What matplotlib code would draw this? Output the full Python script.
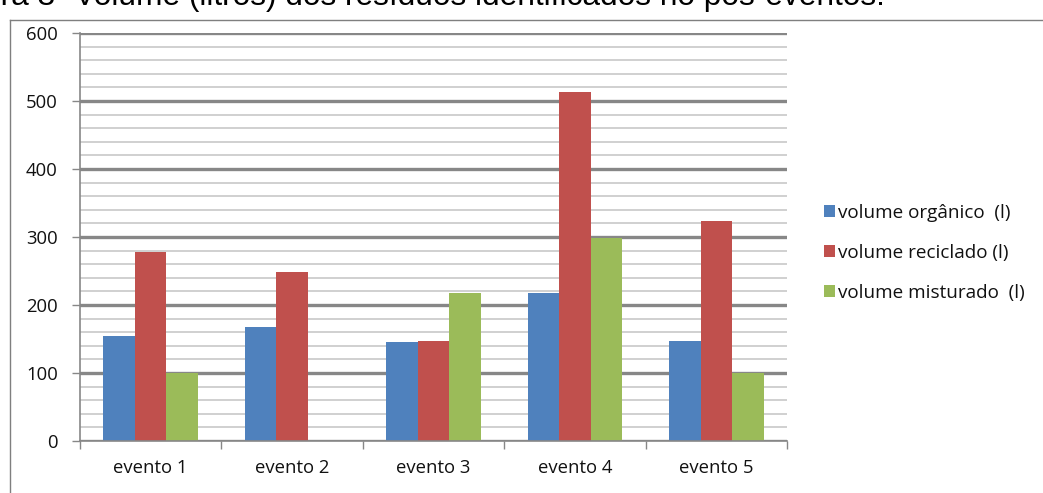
import matplotlib
matplotlib.use("Agg")
import matplotlib.pyplot as plt
from matplotlib.lines import Line2D
import numpy as np

plt.rcParams['font.family'] = ['Open Sans', 'DejaVu Sans']

categories = ["evento 1", "evento 2", "evento 3", "evento 4", "evento 5"]
series_names = ["volume orgânico  (l)", "volume reciclado (l)", "volume misturado  (l)"]
organico = [155, 168, 145, 218, 147]
reciclado = [278, 248, 147, 513, 323]
misturado = [100, 0, 218, 298, 100]
colors = ["#4F81BD", "#C0504D", "#9BBB59"]
title = "Figura 3- Volume (litros) dos resíduos identificados no pós-eventos."

W, H = 1043, 493
fig = plt.figure(figsize=(W / 100, H / 100), dpi=100)
fig.patch.set_facecolor("white")

x0, x1 = 80, 787
y_top, y_bot = 33, 441
ax = fig.add_axes([x0 / W, (H - y_bot) / H, (x1 - x0) / W, (y_bot - y_top) / H])

n = len(categories)
x = np.arange(n)
bw = 0.223
data = [organico, reciclado, misturado]
for i, (vals, col, name) in enumerate(zip(data, colors, series_names)):
    ax.bar(x + (i - 1) * bw, vals, width=bw, color=col, label=name, zorder=3,
           edgecolor="none")

ax.set_xlim(-0.5, n - 0.5)
ax.set_ylim(0, 600)
ax.set_yticks(np.arange(0, 601, 100))
ax.set_yticks(np.arange(0, 601, 20), minor=True)
ax.grid(axis="y", which="minor", color="#c8c8c8", linewidth=1.2, zorder=1)
ax.grid(axis="y", which="major", color="#878787", linewidth=2.4, zorder=2)
ax.set_axisbelow(True)

fs = 13.3
ax.set_xticks(np.arange(-0.5, n, 1.0))
ax.set_xticklabels([])
ax.tick_params(axis="x", which="major", length=6, color="#878787", width=1)
ax.tick_params(axis="y", which="major", length=6, color="#878787", width=1,
               labelsize=fs, pad=10, labelcolor="#111111")
ax.tick_params(axis="y", which="minor", length=0)
for xi, lab in zip(x, categories):
    ax.text(xi, -0.066, lab, transform=ax.get_xaxis_transform(), ha="center",
            va="center", fontsize=fs, color="#111111")

for s in ["top", "right"]:
    ax.spines[s].set_visible(False)
for s in ["left", "bottom"]:
    ax.spines[s].set_color("#878787")
    ax.spines[s].set_linewidth(1.2)
ax.spines["bottom"].set_zorder(4)

leg = fig.legend(loc="center left", bbox_to_anchor=(816 / W, (H - 253) / H),
                 frameon=False, fontsize=13.6, handlelength=0.6, handleheight=0.6,
                 handletextpad=0.15, labelspacing=1.17, borderaxespad=0)
for t in leg.get_texts():
    t.set_color("#111111")

fig.add_artist(Line2D([10 / W, 10 / W], [0, (H - 20) / H], color="#7f7f7f", lw=1))
fig.add_artist(Line2D([10 / W, 1], [(H - 20) / H, (H - 20) / H], color="#7f7f7f", lw=1))

# partially cropped title at the top, as in the reference
fig.text(885 / W, (H - 5) / H, title, ha="right", va="baseline", fontsize=22.8,
         family="Liberation Sans", color="black")

fig.savefig("out.png", dpi=100, facecolor="white")
